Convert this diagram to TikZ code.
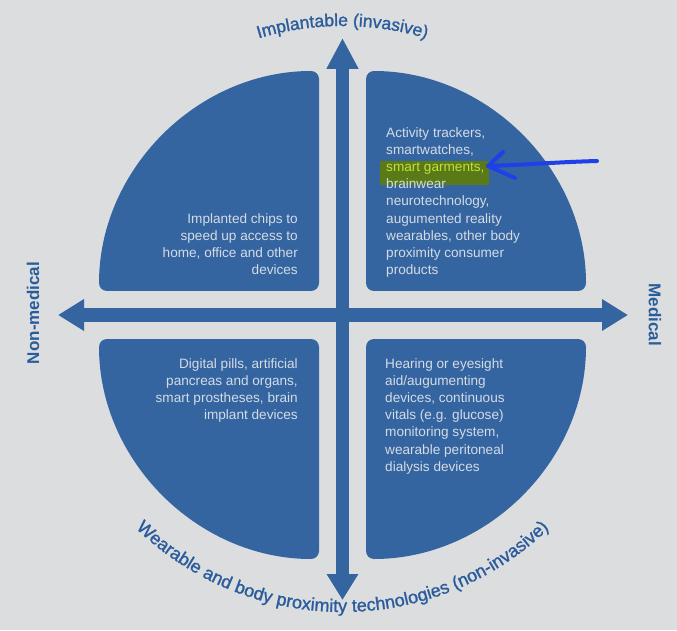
\documentclass[tikz,border=0pt]{standalone}
\usepackage{fontspec}
\setmainfont{Liberation Sans}
\newfontface\medfont{Liberation Sans}[FakeBold=1.2]
\usetikzlibrary{arrows.meta,decorations.text}
\definecolor{bg}{RGB}{220,221,223}
\definecolor{qblue}{RGB}{52,101,160}
\definecolor{lblue}{RGB}{42,92,156}
\definecolor{qtext}{RGB}{212,219,229}
\definecolor{hlbox}{RGB}{90,122,24}
\definecolor{hltext}{RGB}{200,220,60}
\definecolor{pen}{RGB}{30,64,232}
\newcommand\curvefont{\medfont\fontsize{17.5}{20}\selectfont\color{lblue}}
\newcommand\curvefontb{\medfont\fontsize{18}{20}\selectfont\color{lblue}}
\begin{document}
\begin{tikzpicture}[x=1pt,y=1pt,
  quad/.style={fill=qblue, rounded corners=8pt},
  axis/.style={draw=qblue, line width=13pt},
  qt/.style={text=qtext, font=\fontsize{13.6}{17.2}\selectfont, inner sep=0pt},
  side/.style={text=lblue, font=\fontsize{17}{20}\selectfont\bfseries, inner sep=0pt},
  penline/.style={draw=pen, line width=4pt, line cap=round, line join=round}]
\fill[bg] (0,0) rectangle (677,630);
\useasboundingbox (0,0) rectangle (677,630);
% quadrants
\fill[quad] (319,339) -- (99,339) arc[start angle=180,end angle=90,radius=220] -- cycle;
\fill[quad] (366,339) -- (366,559) arc[start angle=90,end angle=0,radius=220] -- cycle;
\fill[quad] (319,291) -- (99,291) arc[start angle=180,end angle=270,radius=220] -- cycle;
\fill[quad] (366,291) -- (586,291) arc[start angle=0,end angle=-90,radius=220] -- cycle;
% axes
\coordinate (vtop) at (342.5,592);
\coordinate (vbot) at (342.5,30);
\coordinate (hleft) at (58,315);
\coordinate (hright) at (628,315);
\draw[axis, {Triangle[length=26pt,width=30pt]}-{Triangle[length=31pt,width=30pt]}] (vbot) -- (vtop);
\draw[axis, {Triangle[length=26pt,width=30pt]}-{Triangle[length=26pt,width=30pt]}] (hleft) -- (hright);
% side labels
\node[side, rotate=90] (nonmed) at (33,317) {Non-medical};
\node[side, rotate=-90] (med) at (655,315) {Medical};
% curved labels
\path[decorate, decoration={text along path, text={|\curvefont|Implantable (invasive)}, text align=center}]
  (342.5,315) ++(115:289) arc[start angle=115,end angle=65,radius=289];
\path[decorate, decoration={text along path, text={|\curvefontb|Wearable and body proximity technologies (non-invasive)}, text align=center}]
  (342.5,315) ++(218:297) arc[start angle=218,end angle=322,radius=297];
% highlight
\fill[hlbox] (380,445) rectangle (489,469);
% quadrant texts
\node[qt, align=right, anchor=north east] (tltext) at (298,417)
  {Implanted chips to\\speed up access to\\home, office and other\\devices};
\node[qt, align=left, anchor=north west] (trtext) at (386,503)
  {Activity trackers,\\smartwatches,\\{\color{hltext}smart garments,}\\brainwear\\neurotechnology,\\augumented reality\\wearables, other body\\proximity consumer\\products};
\node[qt, align=right, anchor=north east] (bltext) at (298,272)
  {Digital pills, artificial\\pancreas and organs,\\smart prostheses, brain\\implant devices};
\node[qt, align=left, anchor=north west] (brtext) at (385,272)
  {Hearing or eyesight\\aid/augumenting\\devices, continuous\\vitals (e.g. glucose)\\monitoring system,\\wearable peritoneal\\dialysis devices};
% hand-drawn arrow
\coordinate (penstart) at (597,469);
\coordinate (pentip) at (488,464);
\coordinate (penup) at (503,478);
\coordinate (pendown) at (515,452);
\draw[penline] (penstart) .. controls (560,468) and (520,465) .. (pentip);
\draw[penline] (penup) -- (pentip) -- (pendown);
\end{tikzpicture}
\end{document}
